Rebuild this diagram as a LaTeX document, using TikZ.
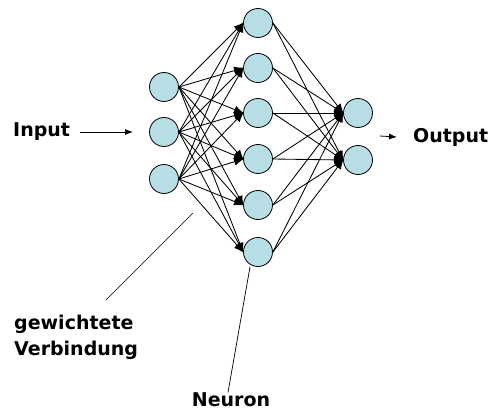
\documentclass[tikz,border=0pt]{standalone}
\usepackage{fontspec}
\setmainfont{DejaVu Sans}
\usetikzlibrary{
    arrows.meta,
    positioning
}
\definecolor{neuronblue}{RGB}{182,222,228}

\begin{document}
\begin{tikzpicture}[x=1pt,y=-1pt,
    neuron/.style={circle,draw,fill=neuronblue,line width=0.8pt,minimum size=29pt,inner sep=0pt},
    weight/.style={-{Latex[length=10pt,width=8pt]},line width=0.85pt,shorten >=-1pt},
    label/.style={font=\fontsize{19}{26}\selectfont\bfseries,inner sep=0pt}]
    \useasboundingbox (0,0) rectangle (493,412);
    \foreach \i/\y in {1/87,2/132,3/179}
        \node[neuron] (i\i) at (164,\y) {};
    \foreach \h/\y in {1/23,2/68,3/113,4/159,5/205,6/252}
        \node[neuron] (h\h) at (258,\y) {};
    \foreach \o/\y in {1/113,2/160}
        \node[neuron] (o\o) at (358,\y) {};
    \foreach \i in {1,2,3}
        \foreach \h in {1,...,6}
            \draw[weight] (i\i.east) -- (h\h.west);
    \foreach \h in {1,...,6}
        \foreach \o in {1,2}
            \draw[weight] (h\h.east) -- (o\o.west);

    \node[label,anchor=west] (in) at (13,132) {Input};
    \coordinate (inend) at (133,132);
    \draw[-{Latex[length=8pt,width=6pt]},line width=0.8pt] ([xshift=10pt]in.east) -- (inend);
    \node[label,anchor=west] (out) at (413,137) {Output};
    \draw[-{Latex[length=8pt,width=6pt]},line width=0.8pt] (380,136) -- ([xshift=-16pt]out.west);

    \node[label,anchor=north west,align=left] (wv) at (14,315) {gewichtete\\Verbindung};
    \coordinate (wvend) at (193,213);
    \draw[line width=0.7pt] (106,300) -- (wvend);
    \node[label,anchor=south] (ne) at (231,407) {Neuron};
    \draw[line width=0.7pt] ([xshift=-3pt]ne.north) -- ([xshift=-8pt]h6.south);
\end{tikzpicture}
\end{document}
